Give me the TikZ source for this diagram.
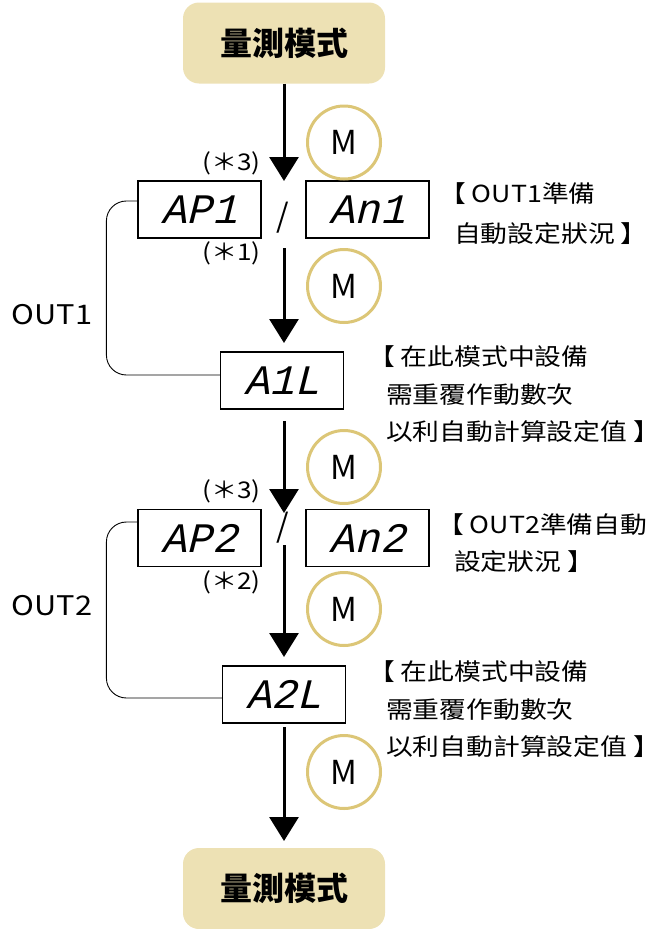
\documentclass[tikz,border=0pt]{standalone}
\usepackage{fontspec}
\setmainfont{Noto Sans CJK TC}
\newfontfamily\cjk{Noto Sans CJK TC}
\newfontfamily\cjkw[FakeStretch=1.14]{Noto Sans CJK TC}
\newfontfamily\segfont[FakeSlant=0.25]{Liberation Mono}
\usetikzlibrary{arrows.meta}
\definecolor{titlefill}{HTML}{EDE1B4}
\definecolor{mring}{HTML}{DCC677}
\begin{document}
\begin{tikzpicture}[x=1pt,y=-1pt,
  titlebox/.style={fill=titlefill, rounded corners=16pt, minimum width=202pt, minimum height=81pt, inner sep=0pt, font=\cjk\fontsize{32}{32}\selectfont\bfseries},
  segbox/.style={draw, line width=1.2pt, minimum width=123pt, minimum height=57pt, inner sep=0pt, font=\segfont\fontsize{42}{42}\selectfont},
  mcirc/.style={circle, draw=mring, line width=3pt, minimum size=73pt, inner sep=0pt, font=\cjk\fontsize{33}{33}\selectfont},
  flow/.style={line width=3pt, -{Triangle[length=24pt,width=29pt]}},
  bracket/.style={line width=0.9pt, rounded corners=20pt},
  note/.style={anchor=west, inner sep=0pt, font=\cjkw\fontsize{23.5}{23.5}\selectfont},
  star/.style={anchor=east, inner sep=0pt, font=\cjkw\fontsize{23}{23}\selectfont},
  outlbl/.style={inner sep=0pt, font=\cjkw\fontsize{27}{27}\selectfont},
  slash/.style={inner sep=0pt, font=\cjk\fontsize{32}{32}\selectfont}
]
\useasboundingbox (0,0) rectangle (660,929);
% title boxes
\node[titlebox] (t1) at (284,43) {量測模式};
\node[titlebox] (t2) at (284,888.5) {量測模式};
% displays
\node[segbox] (ap1) at (199.5,209.5) {AP1};
\node[segbox] (an1) at (367.5,209.5) {An1};
\node[slash] (s1) at (283,218) {/};
\node[segbox] (a1l) at (282,380.5) {A1L};
\node[segbox] (ap2) at (199.5,538) {AP2};
\node[segbox] (an2) at (367.5,538) {An2};
\node[slash] (s2) at (283,528) {/};
\node[segbox] (a2l) at (284,694.5) {A2L};
% M circles
\node[mcirc] (m1) at (344,142.5) {M};
\node[mcirc] (m2) at (344,286) {M};
\node[mcirc] (m3) at (344,467) {M};
\node[mcirc] (m4) at (344,609) {M};
\node[mcirc] (m5) at (344,772) {M};
% star labels
\node[star] (st1) at (261,163) {(＊3)};
\node[star] (st2) at (261,253) {(＊1)};
\node[star] (st3) at (261,491) {(＊3)};
\node[star] (st4) at (261,582) {(＊2)};
% OUT labels
\node[outlbl] (o1) at (52,315) {OUT1};
\node[outlbl] (o2) at (52,606) {OUT2};
% notes
\node[note] (n1a) at (439,194) {【 OUT1準備};
\node[note] (n1b) at (454,234) {自動設定狀況 】};
\node[note] (n2a) at (368,357) {【 在此模式中設備};
\node[note] (n2b) at (386,395) {需重覆作動數次};
\node[note] (n2c) at (386,432) {以利自動計算設定值 】};
\node[note] (n3a) at (437,525) {【 OUT2準備自動};
\node[note] (n3b) at (454,562) {設定狀況 】};
\node[note] (n4a) at (368,672) {【 在此模式中設備};
\node[note] (n4b) at (386,710) {需重覆作動數次};
\node[note] (n4c) at (386,747) {以利自動計算設定值 】};
% flow coordinates
\coordinate (tip1) at (284,181);
\coordinate (r1) at (284,248);
\coordinate (tip2) at (284,343);
\coordinate (r2) at (284,421);
\coordinate (tip3) at (284,513);
\coordinate (r3) at (284,545);
\coordinate (tip4) at (284,657);
\coordinate (r4) at (284,727);
\coordinate (tip5) at (284,841);
\draw[flow] (t1.south) -- (tip1);
\draw[flow] (r1) -- (tip2);
\draw[flow] (r2) -- (tip3);
\draw[flow] (r3) -- (tip4);
\draw[flow] (r4) -- (tip5);
% brackets
\draw[bracket] ([yshift=8.5pt]ap1.west) -- ++(-31,0) |- ([yshift=5.5pt]a1l.west);
\draw[bracket] ([yshift=16pt]ap2.west) -- ++(-31,0) |- ([yshift=-3.5pt]a2l.west);
\end{tikzpicture}
\end{document}
